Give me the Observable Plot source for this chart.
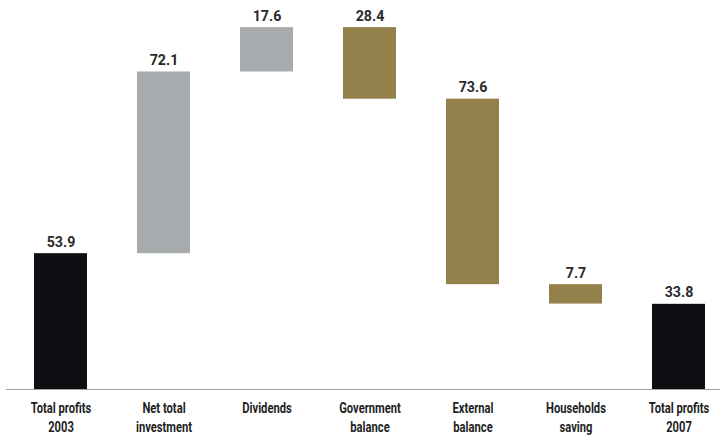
<!DOCTYPE html>
<html>
<head>
<meta charset="utf-8">
<script src="https://cdn.jsdelivr.net/npm/d3@7"></script>
<script src="https://cdn.jsdelivr.net/npm/@observablehq/plot@0.6"></script>
<style>
  html, body { margin: 0; padding: 0; background: #fff; }
  #chart svg { display: block; }
</style>
</head>
<body>
<div id="chart"></div>
<script>
const categories = ["Total profits\n2003", "Net total\ninvestment", "Dividends", "Government\nbalance", "External\nbalance", "Households\nsaving", "Total profits\n2007"];
const values = [53.9, 72.1, 17.6, -28.4, -73.6, -7.7, 33.8];
const kinds = ["total", "increase", "increase", "decrease", "decrease", "decrease", "total"];
const labels = ["53.9", "72.1", "17.6", "28.4", "73.6", "7.7", "33.8"];

const colors = {total: "#0f0e13", increase: "#a7abae", decrease: "#94804a"};

let running = 0;
const data = categories.map((c, i) => {
  let lo, hi;
  if (kinds[i] === "total") {
    lo = 0; hi = values[i]; running = values[i];
  } else {
    const start = running;
    running = running + values[i];
    lo = Math.min(start, running); hi = Math.max(start, running);
  }
  return {cat: c, lo, hi, kind: kinds[i], label: labels[i]};
});

const chart = Plot.plot({
  width: 720,
  height: 437,
  marginTop: 11,
  marginBottom: 48,
  marginLeft: 6,
  marginRight: 0,
  style: {background: "#fff"},
  x: {domain: categories, range: [32, 706.4], padding: 0.49, paddingOuter: 0, axis: null, label: null},
  y: {domain: [0, 150], axis: null},
  marks: [
    Plot.rectY(data, {x: "cat", y1: "lo", y2: "hi", fill: d => colors[d.kind]}),
    Plot.ruleY([0], {stroke: "#a0a0a0", strokeWidth: 1}),
    Plot.text(data, {x: "cat", y: "hi", text: "label", dy: -7, lineAnchor: "bottom", fontSize: 15, fontWeight: "bold", fill: "#2a2a2a", fontFamily: "Roboto, sans-serif", className: "vlab"}),
    Plot.axisX({label: null, tickSize: 0, tickPadding: 0, dy: 11, fontSize: 14, fontWeight: "bold", lineHeight: 1.3, fill: "#1e1e1e", fontFamily: "Roboto, sans-serif", className: "xlab", textAnchor: "middle", lineAnchor: "top"})
  ]
});
// condensed look for the category labels
d3.select(chart).selectAll("g[aria-label='x-axis tick label'] text").each(function() {
  const t = this.getAttribute("transform") || "";
  this.setAttribute("transform", t + " scale(0.8,1)");
});
d3.select(chart).selectAll("g[aria-label='text'] text").each(function() {
  const t = this.getAttribute("transform") || "";
  this.setAttribute("transform", t + " scale(0.95,1)");
});
document.getElementById("chart").appendChild(chart);
</script>
</body>
</html>
